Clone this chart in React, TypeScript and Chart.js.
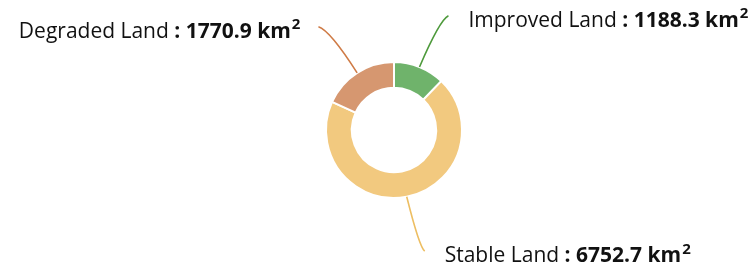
import React, { useEffect, useRef } from "react";
import { Chart, registerables } from "chart.js";

Chart.register(...registerables);

const categories = ["Improved Land", "Stable Land", "Degraded Land"];
const areas = [1188.3, 6752.7, 1770.9];
const valueLabels = ["1188.3", "6752.7", "1770.9"];
const unit = "km";
const sliceColors = ["#6FB36B", "#F2C97F", "#D69770"];
const lineColors = ["#4E9A3C", "#EDBE62", "#CF7B46"];

const FONT = "'Open Sans', sans-serif";
const FS = 21;

const leaderPlugin = {
  id: "leaderLabels",
  afterDraw(chart: any) {
    const ctx = chart.ctx;
    const meta = chart.getDatasetMeta(0);
    meta.data.forEach((arc: any, i: number) => {
      const p = arc.getProps(["x", "y", "startAngle", "endAngle", "outerRadius"], true);
      const mid = (p.startAngle + p.endAngle) / 2;
      const cos = Math.cos(mid);
      const sin = Math.sin(mid);
      const side = cos >= 0 ? 1 : -1;
      const sx = p.x + cos * p.outerRadius;
      const sy = p.y + sin * p.outerRadius;
      const r2 = p.outerRadius * 1.86;
      const ex = p.x + cos * r2 + side * 7;
      const ey = p.y + sin * r2 - Math.sign(sin) * 3;
      const cx = sx + 0.7 * (ex - sx);
      const cy = sy + 0.92 * (ey - sy);
      ctx.save();
      ctx.strokeStyle = lineColors[i];
      ctx.lineWidth = 1.6;
      ctx.beginPath();
      ctx.moveTo(sx, sy);
      ctx.quadraticCurveTo(cx, cy, ex, ey);
      ctx.stroke();

      const normal = categories[i];
      const bold = " : " + valueLabels[i] + " " + unit;
      const sup = "2";
      const supFs = Math.round(FS * 0.7);
      ctx.textBaseline = "middle";
      ctx.fillStyle = "#111111";
      ctx.font = `400 ${FS}px ${FONT}`;
      const wN = ctx.measureText(normal).width;
      ctx.font = `700 ${FS}px ${FONT}`;
      const wB = ctx.measureText(bold).width;
      ctx.font = `700 ${supFs}px ${FONT}`;
      const wS = ctx.measureText(sup).width;
      const total = wN + wB + wS + 1;
      const ty = ey + 5;
      let tx = side > 0 ? ex + 20 : ex - 18 - total;
      ctx.textAlign = "left";
      ctx.font = `400 ${FS}px ${FONT}`;
      ctx.fillText(normal, tx, ty);
      tx += wN;
      ctx.font = `700 ${FS}px ${FONT}`;
      ctx.fillText(bold, tx, ty);
      tx += wB + 1;
      ctx.font = `700 ${supFs}px ${FONT}`;
      ctx.fillText(sup, tx, ty - 7);
      ctx.restore();
    });
  },
};

export default function App() {
  const ref = useRef<HTMLCanvasElement | null>(null);
  useEffect(() => {
    document.body.style.margin = "0";
    const chart = new Chart(ref.current!, {
      type: "doughnut",
      data: {
        labels: categories,
        datasets: [
          {
            data: areas,
            backgroundColor: sliceColors,
            borderColor: "#ffffff",
            borderWidth: 2,
            hoverOffset: 0,
          },
        ],
      },
      options: {
        animation: false,
        responsive: false,
        cutout: "62%",
        layout: { padding: { left: 36, right: 0, top: 61, bottom: 71 } },
        plugins: { legend: { display: false }, tooltip: { enabled: false } },
      },
      plugins: [leaderPlugin],
    });
    return () => chart.destroy();
  }, []);
  return (
    <div style={{ width: 752, height: 270, position: "relative" }}>
      <canvas ref={ref} width={752} height={270} />
    </div>
  );
}
